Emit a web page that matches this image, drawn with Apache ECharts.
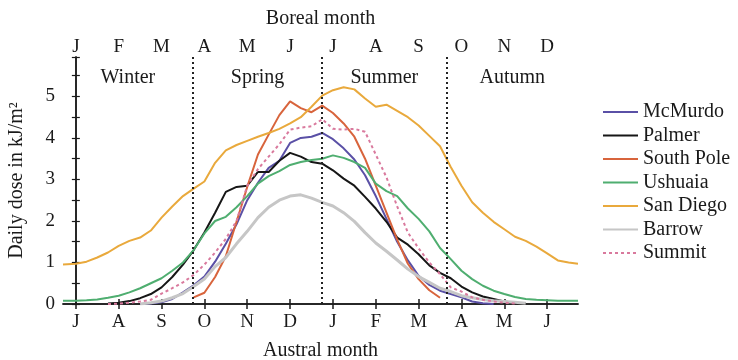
<!DOCTYPE html>
<html>
<head>
<meta charset="utf-8">
<script src="https://cdn.jsdelivr.net/npm/echarts@6/dist/echarts.min.js"></script>
<style>
  html, body { margin: 0; padding: 0; background: #fff; }
  #chart { width: 738px; height: 360px; }
</style>
</head>
<body>
<div id="chart"></div>
<script>
// x positions in months (0 = boreal January tick / austral July tick)
const monthPos = [-0.3, 0, 0.25, 0.5, 0.75, 1, 1.25, 1.5, 1.75, 2, 2.25, 2.5, 2.75, 3, 3.25, 3.5, 3.75,
    4, 4.25, 4.5, 4.75, 5, 5.25, 5.5, 5.75, 6, 6.25, 6.5, 6.75, 7, 7.25, 7.5, 7.75, 8, 8.25, 8.5, 8.75,
    9, 9.25, 9.5, 9.75, 10, 10.25, 10.5, 10.75, 11, 11.25, 11.5, 11.72];

const australMonths = ['J', 'A', 'S', 'O', 'N', 'D', 'J', 'F', 'M', 'A', 'M', 'J'];
const borealMonths = ['J', 'F', 'M', 'A', 'M', 'J', 'J', 'A', 'S', 'O', 'N', 'D'];
const monthTicks = [0, 1, 2, 3, 4, 5, 6, 7, 8, 9, 10, 11];

const seasons = ['Winter', 'Spring', 'Summer', 'Autumn'];
const seasonEdges = [-0.3, 2.73, 5.75, 8.65, 11.72];

const mcmurdo = [null, null, null, null, null, null, null, 0.0, 0.01, 0.04, 0.12, 0.28, 0.45, 0.66, 1.02, 1.45, 1.92,
    2.5, 2.92, 3.28, 3.45, 3.88, 4.0, 4.03, 4.12, 3.97, 3.75, 3.48, 3.1, 2.6, 2.05, 1.5, 1.05, 0.68, 0.46, 0.32, 0.24,
    0.16, 0.06, 0.02, 0.0, null, null, null, null, null, null, null, null];
const palmer = [null, null, null, null, 0.01, 0.03, 0.07, 0.14, 0.24, 0.4, 0.65, 0.95, 1.3, 1.72, 2.2, 2.7, 2.82,
    2.85, 3.18, 3.18, 3.45, 3.64, 3.55, 3.42, 3.38, 3.22, 3.02, 2.85, 2.58, 2.3, 1.98, 1.6, 1.43, 1.2, 0.93, 0.75, 0.62,
    0.42, 0.28, 0.18, 0.12, 0.06, 0.03, 0.01, null, null, null, null, null];
const southPole = [null, null, null, null, null, null, null, null, null, null, null, null, 0.16, 0.27, 0.65, 1.15, 1.98,
    2.82, 3.6, 4.08, 4.55, 4.88, 4.72, 4.62, 4.78, 4.6, 4.35, 4.03, 3.5, 2.85, 2.2, 1.55, 0.97, 0.6, 0.33, 0.15, null,
    null, null, null, null, null, null, null, null, null, null, null, null];
const ushuaia = [0.08, 0.08, 0.09, 0.11, 0.15, 0.2, 0.28, 0.38, 0.5, 0.62, 0.8, 1.0, 1.3, 1.7, 2.0, 2.1, 2.33,
    2.6, 2.9, 3.08, 3.2, 3.35, 3.42, 3.47, 3.5, 3.58, 3.52, 3.42, 3.28, 2.9, 2.72, 2.6, 2.3, 2.05, 1.75, 1.35, 1.08,
    0.8, 0.6, 0.44, 0.32, 0.24, 0.17, 0.12, 0.1, 0.09, 0.08, 0.08, 0.08];
const sanDiego = [0.95, 0.97, 1.02, 1.12, 1.24, 1.4, 1.52, 1.6, 1.77, 2.08, 2.35, 2.6, 2.78, 2.95, 3.4, 3.7, 3.83,
    3.93, 4.03, 4.12, 4.22, 4.35, 4.5, 4.75, 5.02, 5.15, 5.22, 5.17, 4.95, 4.75, 4.8, 4.65, 4.5, 4.3, 4.05, 3.8, 3.3,
    2.85, 2.45, 2.2, 1.98, 1.8, 1.62, 1.52, 1.38, 1.22, 1.05, 1.0, 0.97];
const barrow = [null, null, null, null, null, null, null, 0.0, 0.03, 0.07, 0.15, 0.25, 0.42, 0.6, 0.9, 1.12, 1.45,
    1.75, 2.08, 2.33, 2.5, 2.6, 2.63, 2.55, 2.45, 2.36, 2.2, 1.99, 1.72, 1.47, 1.27, 1.06, 0.84, 0.66, 0.52, 0.38, 0.3,
    0.2, 0.15, 0.11, 0.08, 0.06, 0.04, 0.02, null, null, null, null, null];
const summit = [null, null, null, null, 0.0, 0.01, 0.03, 0.06, 0.1, 0.25, 0.38, 0.52, 0.7, 0.95, 1.24, 1.57, 2.0,
    2.85, 3.25, 3.55, 3.85, 4.2, 4.25, 4.28, 4.45, 4.22, 4.2, 4.22, 4.15, 3.6, 3.05, 2.35, 1.72, 1.34, 1.0, 0.72, 0.4,
    0.3, 0.16, 0.1, 0.06, 0.03, 0.01, null, null, null, null, null, null];

const serif = 'Liberation Serif';
const ink = '#1a1a1a';

function toPoints(values) {
    return monthPos.map((x, i) => [x, values[i]]).filter(p => p[1] !== null);
}

function makeLine(name, values, color, width, dash) {
    return {
        name: name,
        type: 'line',
        symbol: 'none',
        smooth: false,
        data: toPoints(values),
        lineStyle: { color: color, width: width, type: dash || 'solid' },
        itemStyle: { color: color },
        z: 3
    };
}

const xBase = {
    type: 'value',
    min: -0.3,
    max: 11.72,
    splitLine: { show: false },
    axisLine: { show: true, lineStyle: { color: ink, width: 1.5 } },
    axisTick: { show: true, inside: true, length: 5, customValues: monthTicks, lineStyle: { color: ink, width: 1.5 } },
    nameLocation: 'middle',
    nameTextStyle: { fontFamily: serif, fontSize: 20, color: ink }
};

const yBase = {
    type: 'value',
    min: 0,
    max: 5.95,
    interval: 0.5,
    splitLine: { show: false },
    axisLine: { show: true, lineStyle: { color: ink, width: 1.5 } },
    axisTick: { show: true, inside: true, length: 4, lineStyle: { color: ink, width: 1.2 } }
};

let chart = echarts.init(document.getElementById('chart'));

const lines = [
    makeLine('McMurdo', mcmurdo, '#5a50a6', 2),
    makeLine('Palmer', palmer, '#161616', 2),
    makeLine('South Pole', southPole, '#d8643c', 2),
    makeLine('Ushuaia', ushuaia, '#4fae70', 2),
    makeLine('San Diego', sanDiego, '#e9a93c', 2),
    makeLine('Barrow', barrow, '#c6c6c6', 3),
    makeLine('Summit', summit, '#d9799d', 2, [3, 3])
];

// season separators and labels
lines[0].markLine = {
    silent: true,
    symbol: 'none',
    label: { show: false },
    lineStyle: { color: '#222', width: 2, type: [2, 3] },
    data: seasonEdges.slice(1, 4).map(v => ({ xAxis: v }))
};
lines[0].markArea = {
    silent: true,
    itemStyle: { color: 'rgba(0,0,0,0)' },
    label: { show: true, position: 'insideTop', distance: 11, fontFamily: serif, fontSize: 20, color: ink },
    data: seasons.map((s, i) => [{ name: s, xAxis: seasonEdges[i] }, { xAxis: seasonEdges[i + 1] }])
};

const option = {
    backgroundColor: '#fff',
    animation: false,
    grid: { left: 63, right: 160, top: 57, bottom: 56, outerBoundsMode: 'none', containLabel: false },
    legend: {
        orient: 'vertical',
        left: 597,
        top: 97,
        itemWidth: 35,
        itemHeight: 20,
        itemGap: 3.5,
        itemStyle: { opacity: 0 },
        textStyle: { fontFamily: serif, fontSize: 20, color: ink },
        data: lines.map(l => l.name)
    },
    xAxis: [
        Object.assign({}, xBase, {
            position: 'bottom',
            name: 'Austral month',
            nameGap: 37,
            axisLabel: {
                customValues: monthTicks, margin: 9, fontFamily: serif, fontSize: 19, color: ink,
                formatter: (v) => australMonths[Math.round(v)]
            }
        }),
        Object.assign({}, xBase, {
            position: 'top',
            name: 'Boreal month',
            nameGap: 28,
            axisLabel: {
                customValues: monthTicks, margin: 0, fontFamily: serif, fontSize: 19, color: ink,
                formatter: (v) => borealMonths[Math.round(v)]
            }
        })
    ],
    yAxis: [
        Object.assign({}, yBase, {
            position: 'left',
            name: 'Daily dose in kJ/m²',
            nameLocation: 'middle',
            nameGap: 36,
            nameTextStyle: { fontFamily: serif, fontSize: 20, color: ink },
            axisLabel: {
                margin: 8, fontFamily: serif, fontSize: 19, color: ink,
                formatter: (v) => (Math.abs(v - Math.round(v)) < 1e-6 ? String(Math.round(v)) : '')
            }
        }),
        Object.assign({}, yBase, {
            position: 'right',
            axisLabel: { show: false }
        })
    ],
    series: lines
};

option && chart.setOption(option);
window.addEventListener('resize', chart.resize);
</script>
</body>
</html>
